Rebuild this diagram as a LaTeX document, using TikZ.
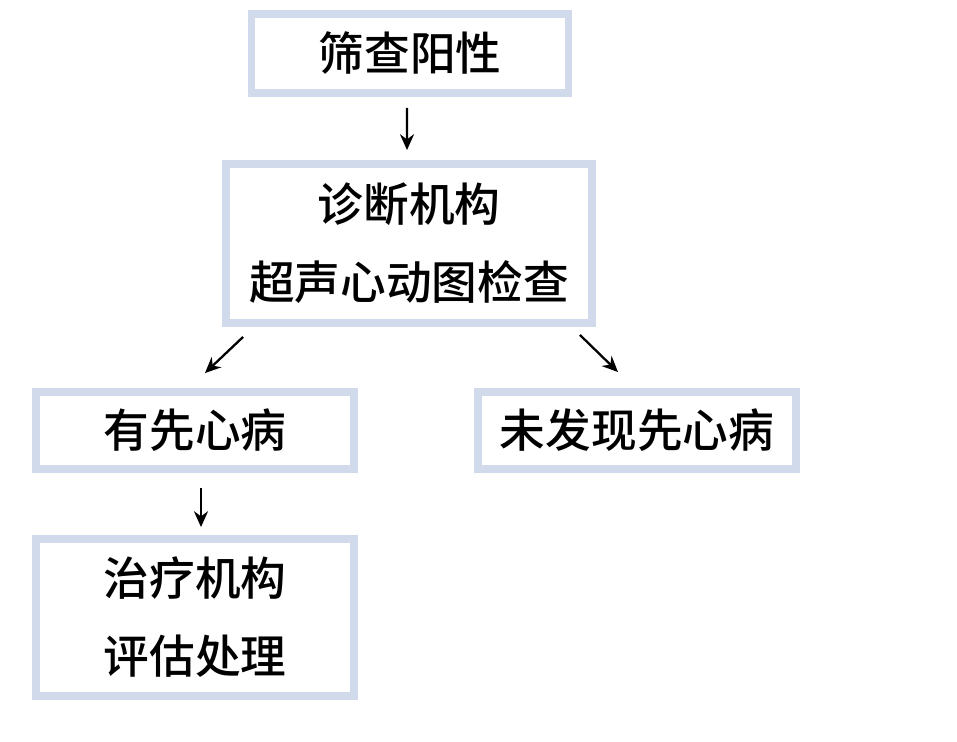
\documentclass[tikz,border=0pt]{standalone}
\usepackage{fontspec}
\newfontfamily\cjk{Noto Sans CJK SC Medium}
\usetikzlibrary{arrows.meta, positioning, calc}
\definecolor{boxline}{RGB}{208,218,234}

\begin{document}
\begin{tikzpicture}[
    x=0.02cm, y=-0.02cm,
    box/.style={rectangle, draw=boxline, fill=white, line width=4.5pt,
        font=\cjk\fontsize{26}{44.4}\selectfont, align=center, inner sep=0pt},
    arr/.style={-{Stealth[length=9pt, width=8pt]}, line width=1.3pt, black}
]
    \useasboundingbox (0,0) rectangle (957,742);

    % Boxes (manual layout)
    \node[box, minimum width=6.34cm, minimum height=1.58cm] (screen) at (410,53.5)   {筛查阳性};
    \node[box, minimum width=7.32cm, minimum height=3.18cm] (diag)   at (409,243.5)  {诊断机构\\超声心动图检查};
    \node[box, minimum width=6.36cm, minimum height=1.54cm] (chd)    at (195,430.5)  {有先心病};
    \node[box, minimum width=6.36cm, minimum height=1.54cm] (nochd)  at (637,430.5)  {未发现先心病};
    \node[box, minimum width=6.36cm, minimum height=3.14cm] (treat)  at (195,617.5)  {治疗机构\\评估处理};

    % Arrows
    \draw[arr, shorten <=0.22cm, shorten >=0.2cm] ([xshift=-0.06cm]screen.south) -- ([xshift=-0.04cm]diag.north);
    \draw[arr] ($(diag.south west)+(21,10)$) -- ($(chd.north)+(10,-15)$);
    \draw[arr] ($(diag.south east)+(-16,8)$) -- ($(nochd.north)+(-19,-16)$);
    \draw[arr, shorten <=0.3cm, shorten >=0.16cm] ([xshift=0.12cm]chd.south) -- ([xshift=0.12cm]treat.north);
\end{tikzpicture}
\end{document}
